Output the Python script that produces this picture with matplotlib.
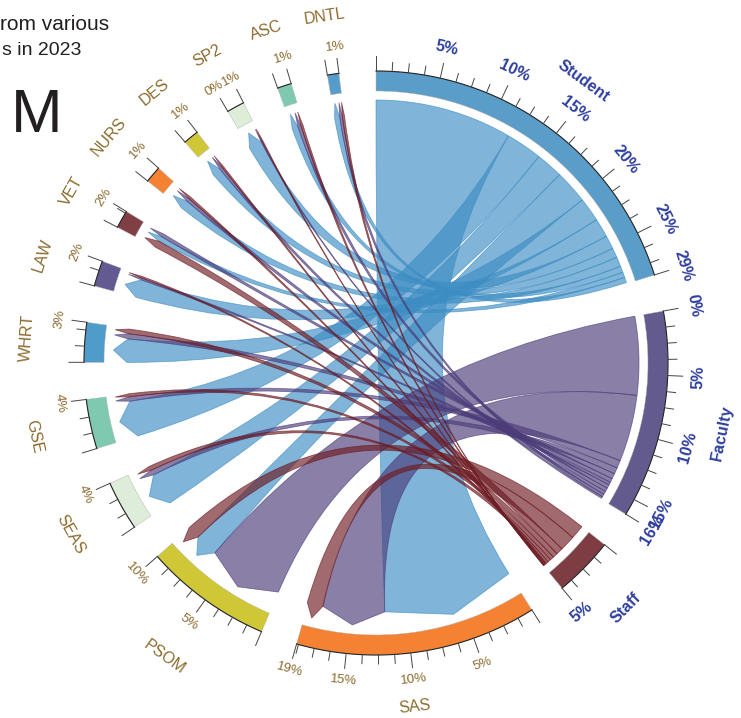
# -*- coding: utf-8 -*-
# chord diagram, flows from Student / Faculty / Staff to the schools
import numpy as np
import matplotlib
matplotlib.use('Agg')
import matplotlib.pyplot as plt
from matplotlib.patches import Wedge, PathPatch
from matplotlib.path import Path

plt.rcParams['font.family'] = ['Liberation Sans', 'DejaVu Sans']

# sectors clockwise from 12 o'clock, sizes in percent
sectors = ['Student', 'Faculty', 'Staff', 'SAS', 'PSOM', 'SEAS', 'GSE', 'WHRT',
           'LAW', 'VET', 'NURS', 'DES', 'SP2', 'ASC', 'DNTL']
sizes = [28.5, 16.3, 4.7, 18.9, 10.0, 3.88, 3.88, 3.1, 2.0, 1.4, 1.3, 1.2, 1.38, 1.1, 0.9]
sector_colors = ['#5a9dc8', '#635a8e', '#7e3d42', '#f58233', '#cfc736', '#deedd9',
                 '#80c9b1', '#4f9bc9', '#645a92', '#7f3f44', '#f58233', '#cfc736',
                 '#ddedd8', '#80c9b1', '#569bca']
# the last value is the one labelled at the sector end
tick_labels = {
    'Student': [5, 10, 15, 20, 25, 29],
    'Faculty': [0, 5, 10, 15, 16],
    'Staff': [5],
    'SAS': [5, 10, 15, 19],
    'PSOM': [5, 10],
    'SEAS': [4],
    'GSE': [4],
    'WHRT': [3],
    'LAW': [2],
    'VET': [2],
    'NURS': [1],
    'DES': [1],
    'SP2': [0, 1],
    'ASC': [1],
    'DNTL': [1],
}

# links, in the order they leave the source sector
student_dests = ['SAS', 'GSE', 'SEAS', 'PSOM', 'WHRT', 'LAW', 'SP2', 'DES', 'NURS', 'ASC', 'VET', 'DNTL']
student_src = [11.9, 3.15, 2.36, 2.92, 2.09, 1.65, 1.18, 0.83, 0.83, 0.55, 0.47, 0.47]
student_dst = [11.9, 3.23, 2.95, 2.09, 2.13, 1.65, 1.20, 0.79, 0.79, 0.55, 0.47, 0.47]

faculty_dests = ['PSOM', 'SAS', 'GSE', 'SEAS', 'WHRT', 'VET', 'LAW', 'NURS', 'ASC', 'DES', 'DNTL', 'SP2']
faculty_src = [6.82, 5.79, 0.67, 0.55, 0.47, 0.35, 0.24, 0.32, 0.32, 0.28, 0.24, 0.16]
faculty_dst = [6.78, 5.63, 0.40, 0.47, 0.47, 0.31, 0.16, 0.30, 0.28, 0.25, 0.24, 0.09]

staff_dests = ['PSOM', 'SAS', 'VET', 'WHRT', 'GSE', 'SEAS', 'LAW', 'NURS', 'DES', 'ASC', 'SP2', 'DNTL']
staff_src = [1.22, 1.34, 0.59, 0.43, 0.32, 0.28, 0.20, 0.08, 0.08, 0.08, 0.04, 0.04]
staff_dst = [1.18, 1.46, 0.63, 0.43, 0.28, 0.39, 0.16, 0.20, 0.15, 0.20, 0.09, 0.20]

# order of the link ends inside a school, clockwise
dest_order = {s: ['Student', 'Faculty', 'Staff'] for s in sectors[3:]}
dest_order['PSOM'] = ['Faculty', 'Student', 'Staff']
dest_order['VET'] = ['Staff', 'Student', 'Faculty']

sources = ['Student', 'Faculty', 'Staff']
link_colors = {'Student': '#3c8dc3', 'Faculty': '#4b3c79', 'Staff': '#6d1b22'}
link_dests = {'Student': student_dests, 'Faculty': faculty_dests, 'Staff': staff_dests}
link_src = {'Student': student_src, 'Faculty': faculty_src, 'Staff': staff_src}
link_dst = {'Student': student_dst, 'Faculty': faculty_dst, 'Staff': staff_dst}

GAP = 7.3
DEG_PER_PCT = (360 - GAP * len(sectors)) / sum(sizes)
R_OUT, R_IN, R_LINK, R_BASE = 292, 272, 263, 249
BLUE, BROWN = '#2e3f9e', '#8b6b2e'
# a few names sit off the sector middle
name_radius = {'PSOM': 362, 'SAS': 346, 'Faculty': 353}
name_shift = {'SAS': -1.8, 'Faculty': -1.0}


def pol(r, ang):
    a = np.deg2rad(ang)
    return r * np.cos(a), r * np.sin(a)


def text_rot(ang):
    ang = (ang + 180) % 360 - 180
    return ang - 90 if ang > 0 else ang + 90


fig = plt.figure(figsize=(7.41, 7.18), dpi=100)
ax = fig.add_axes([0, 0, 1, 1])
# one data unit is one pixel, circle centre at the origin
ax.set_xlim(-376, 365)
ax.set_ylim(-355, 363)
ax.axis('off')

# sector start angles
start = {}
ang = 90.0
for name, size in zip(sectors, sizes):
    start[name] = ang
    ang -= size * DEG_PER_PCT + GAP


def to_ang(name, pct):
    return start[name] - pct * DEG_PER_PCT


# where each link ends on the school side
dest_span = {}
for name in sectors[3:]:
    pos = 0.0
    for src in dest_order[name]:
        w = link_dst[src][link_dests[src].index(name)]
        dest_span[(src, name)] = (to_ang(name, pos), to_ang(name, pos + w))
        pos += w

for src in sources:
    pos = 0.0
    for dest, w_src in zip(link_dests[src], link_src[src]):
        a1, a2 = to_ang(src, pos), to_ang(src, pos + w_src)
        pos += w_src
        b1, b2 = dest_span[(src, dest)]
        arc = np.linspace(a1, a2, 30)
        verts = [pol(R_LINK, t) for t in arc]
        codes = [Path.MOVETO] + [Path.LINETO] * (len(arc) - 1)
        # quadratic edge through the centre, arrow head, edge back
        verts += [(0, 0), pol(R_BASE, b1), pol(R_LINK, (b1 + b2) / 2), pol(R_BASE, b2),
                  (0, 0), pol(R_LINK, a1)]
        codes += [Path.CURVE3, Path.CURVE3, Path.LINETO, Path.LINETO, Path.CURVE3, Path.CURVE3]
        ax.add_patch(PathPatch(Path(verts, codes), facecolor=link_colors[src], edgecolor=link_colors[src],
                               alpha=0.65, lw=0.6))

# rings, ticks and labels
for name, size, col in zip(sectors, sizes, sector_colors):
    a_end = to_ang(name, size)
    ax.add_patch(Wedge((0, 0), R_OUT, a_end, start[name], width=R_OUT - R_IN, facecolor=col,
                       edgecolor='#b0b0b0', lw=0.3))
    arc = np.linspace(start[name], a_end, 60)
    ax.plot(*pol(R_OUT, arc), color='#222222', lw=0.8)

    is_source = name in sources
    txt_col = BLUE if is_source else BROWN
    # minor ticks every 1.25 percent, long ones every 5 and at both ends
    for p in np.arange(0, size, 1.25):
        if size - p < 0.14:
            continue
        length = 15 if p % 5 == 0 else 9
        t = to_ang(name, p)
        ax.plot(*zip(pol(R_OUT, t), pol(R_OUT + length, t)), color='#444444', lw=0.7)
    ax.plot(*zip(pol(R_OUT, a_end), pol(R_OUT + 15, a_end)), color='#444444', lw=0.7)

    labels = tick_labels[name]
    for lab in labels:
        t = a_end if lab == labels[-1] else to_ang(name, lab)
        x, y = pol(323 if is_source else 319, t)
        ax.text(x, y, '%d%%' % lab, color=txt_col, fontsize=11.5 if is_source else 9.5,
                fontweight='bold' if is_source else 'normal',
                rotation=text_rot(t), ha='center', va='center', rotation_mode='anchor')

    mid = (start[name] + a_end) / 2 + name_shift.get(name, 0)
    x, y = pol(name_radius.get(name, 350), mid)
    ax.text(x, y, name, color=txt_col, fontsize=11.5,
            fontweight='bold' if is_source else 'normal',
            rotation=text_rot(mid), ha='center', va='center', rotation_mode='anchor')

# leftovers of the cropped page heading
ax.text(-266.5, 333, 'rom various', color='#231f20', fontsize=15, ha='right', va='baseline')
ax.text(-295, 308, 's in 2023', color='#231f20', fontsize=14, ha='right', va='baseline')
ax.text(-365, 231, 'M', color='#231f20', fontsize=44.6, ha='left', va='baseline')

fig.savefig('out.png', dpi=100)
